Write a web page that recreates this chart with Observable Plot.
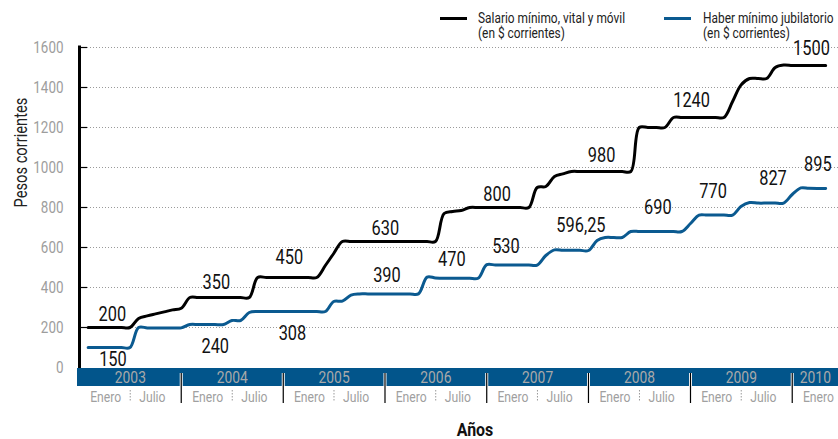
<!DOCTYPE html>
<html><head><meta charset="utf-8">
<script src="https://cdn.jsdelivr.net/npm/d3@7"></script>
<script src="https://cdn.jsdelivr.net/npm/@observablehq/plot@0.6"></script>
<style>
body{margin:0;background:#fff;}
#wrap{position:relative;width:838px;height:439px;font-family:Roboto,'Liberation Sans',sans-serif;overflow:hidden}
.leg{position:absolute;top:11px;font-size:14px;line-height:15px;color:#222;white-space:nowrap;transform:scaleX(0.85);transform-origin:0 0}
.sw{position:absolute;width:27px;height:3px;top:17px}
</style></head><body><div id="wrap"></div>
<script>
// ---- data ----
const monthStart = "2003-02-01", monthStop = "2010-06-01"; // Feb 2003 .. May 2010 (monthly)
const salario = [
  200,200,200,200,200,200,245,258,268,278,288,                 // 2003 Feb-Dec
  296,350,350,350,350,350,350,350,350,450,450,450,             // 2004
  450,450,450,450,450,510,570,630,630,630,630,630,             // 2005
  630,630,630,630,630,630,630,770,780,785,800,800,             // 2006
  800,800,800,800,800,800,900,905,955,968,980,980,             // 2007
  980,980,980,980,980,980,1200,1200,1200,1200,1250,1250,       // 2008
  1250,1250,1250,1250,1250,1330,1412,1445,1445,1445,1500,1512, // 2009
  1510,1510,1510,1510,1510                                     // 2010 Jan-May
];
const haber = [
  100,100,100,100,100,100,200,198,198,198,198,                 // 2003 Feb-Dec
  198,215,215,215,215,215,235,235,275,280,280,280,             // 2004
  280,280,280,280,280,280,330,332,362,368,368,368,             // 2005
  368,368,368,368,368,452,448,446,446,446,446,446,             // 2006
  514,512,512,512,512,512,512,560,588,586,586,586,             // 2007
  585,635,650,650,650,680,680,680,680,680,680,680,             // 2008
  720,762,762,762,762,762,805,825,822,822,822,822,             // 2009
  865,898,896,895,895                                          // 2010 Jan-May
];
const labelText  = ["200","350","450","630","800","980","1240","1500","150","240","308","390","470","530","596,25","690","770","827","895"];
const labelDate  = ["2003-04-29","2004-05-06","2005-01-23","2006-01-02","2007-02-07","2008-02-17","2009-01-05","2010-03-11",
                    "2003-05-01","2004-05-02","2005-02-03","2006-01-08","2006-08-29","2007-03-11","2007-12-05","2008-09-06","2009-03-23","2009-10-24","2010-04-03"];
const labelValue = [265,425,548,693,862,1061,1335,1593, 40,105,167,461,541,602,709,799,881,946,1016];
const years = [2003,2004,2005,2006,2007,2008,2009,2010];
const yTicks = [0,200,400,600,800,1000,1200,1400,1600];
const xEnd = "2010-06-16";

// ---- build ----
const FONT = "Roboto,'Liberation Sans',sans-serif";
const BLUE = "#0b5a90", BAND = "#02558b";
const P = d3.utcParse("%Y-%m-%d");
const months = d3.utcMonth.range(P(monthStart), P(monthStop));
const sal = months.map((d,i)=>({date:d, value:salario[i]}));
const hab = months.map((d,i)=>({date:d, value:haber[i]}));
const labels = labelText.map((t,i)=>({text:t, date:P(labelDate[i]), value:labelValue[i]}));
const endDate = P(xEnd);
const yearInfo = years.map(y=>{
  const s = new Date(Date.UTC(y,0,1));
  const e = y===2010 ? endDate : new Date(Date.UTC(y+1,0,1));
  const mid = new Date(Date.UTC(y,6,2));
  return {year:y, start:s, center:new Date((+s + +e)/2), mid};
});
const segs = d3.pairs(yTicks).map(([a,b])=>({a,b}));
// pixel helper for the bottom strip (y units: 5 per px below 0)
const below = px => -px*5;

const chart = Plot.plot({
  width: 838, height: 439,
  marginLeft: 79, marginRight: 0, marginTop: 47, marginBottom: 72,
  style: {fontFamily: FONT, background: "#fff", overflow: "visible"},
  x: {type: "utc", domain: [P("2003-01-01"), endDate], axis: null},
  y: {domain: [0,1600], axis: null},
  marks: [
    Plot.ruleY(yTicks.filter(d=>d>0), {stroke:"#9a9a9a", strokeWidth:1, strokeDasharray:"1,2", insetLeft:8}),
    Plot.ruleY(yTicks.filter(d=>d>0), {stroke:"#000", strokeWidth:1.2, insetLeft:1, strokeDasharray:"7,3000"}),
    Plot.ruleX(segs, {x: ()=>P("2003-01-01"), y1:"a", y2:"b", stroke:"#000", strokeWidth:3, insetTop:1.5, insetBottom:1.5}),
    Plot.axisY(yTicks, {tickSize:0, tickPadding:16, fontSize:16, fill:"#9d9d9d", label:null, tickFormat:d=>String(d)}),
    Plot.text(["Pesos corrientes"], {frameAnchor:"left", dx:-58, rotate:-90, fontSize:17.5, fill:"#222"}),
    // bottom band
    Plot.rect([0], {x1:()=>P("2003-01-01"), x2:()=>endDate, y1:below(1), y2:below(19), fill:BAND, insetLeft:-2}),
    Plot.ruleX(yearInfo.slice(1), {x:"start", y1:below(6), y2:below(19), stroke:"#fff", strokeWidth:3}),
    Plot.ruleX(yearInfo.slice(1), {x:"start", y1:below(6), y2:below(36), stroke:"#000", strokeWidth:1.2}),
    Plot.ruleX(yearInfo.slice(0,7), {x:"mid", y1:below(23), y2:below(35), stroke:"#999", strokeWidth:1, strokeDasharray:"1.5,1.5"}),
    Plot.text(yearInfo, {x:"center", y:below(10.5), text:d=>String(d.year), fontSize:16.5, fill:"#a9a9a9", lineAnchor:"middle"}),
    Plot.text(yearInfo, {x:"mid", y:below(30), text:()=>"Enero", dx:-9, textAnchor:"end", fontSize:14.5, fill:"#a0a0a0", lineAnchor:"middle"}),
    Plot.text(yearInfo.slice(0,7), {x:"mid", y:below(30), text:()=>"Julio", dx:9, textAnchor:"start", fontSize:14.5, fill:"#a0a0a0", lineAnchor:"middle"}),
    Plot.text(["Años"], {frameAnchor:"bottom", dx:16, dy:62, fontSize:19, fontWeight:"bold", fill:"#111", lineAnchor:"middle"}),
    // series
    Plot.line(hab, {x:"date", y:"value", curve:"catmull-rom", stroke:BLUE, strokeWidth:3}),
    Plot.line(sal, {x:"date", y:"value", curve:"catmull-rom", stroke:"#000", strokeWidth:3}),
    Plot.text(labels, {x:"date", y:"value", text:"text", fontSize:19.5, fill:"#111", lineAnchor:"middle"})
  ]
});
// condense all texts horizontally (the original uses a condensed typeface)
const SX = 0.84;
chart.querySelectorAll("text").forEach(t=>{
  const tr = t.getAttribute("transform");
  if (tr) { t.setAttribute("transform", tr + ` scale(${SX},1)`); return; }
  const x = +(t.getAttribute("x")||0), y = +(t.getAttribute("y")||0);
  t.setAttribute("transform", `translate(${x},${y}) scale(${SX},1) translate(${-x},${-y})`);
});
const wrap = document.getElementById("wrap");
wrap.appendChild(chart);
wrap.insertAdjacentHTML("beforeend", `
  <div class="sw" style="left:440px;background:#000"></div>
  <div class="leg" style="left:478px">Salario mínimo, vital y móvil<br>(en $ corrientes)</div>
  <div class="sw" style="left:664px;background:${BLUE}"></div>
  <div class="leg" style="left:703px">Haber mínimo jubilatorio<br>(en $ corrientes)</div>`);
</script></body></html>
